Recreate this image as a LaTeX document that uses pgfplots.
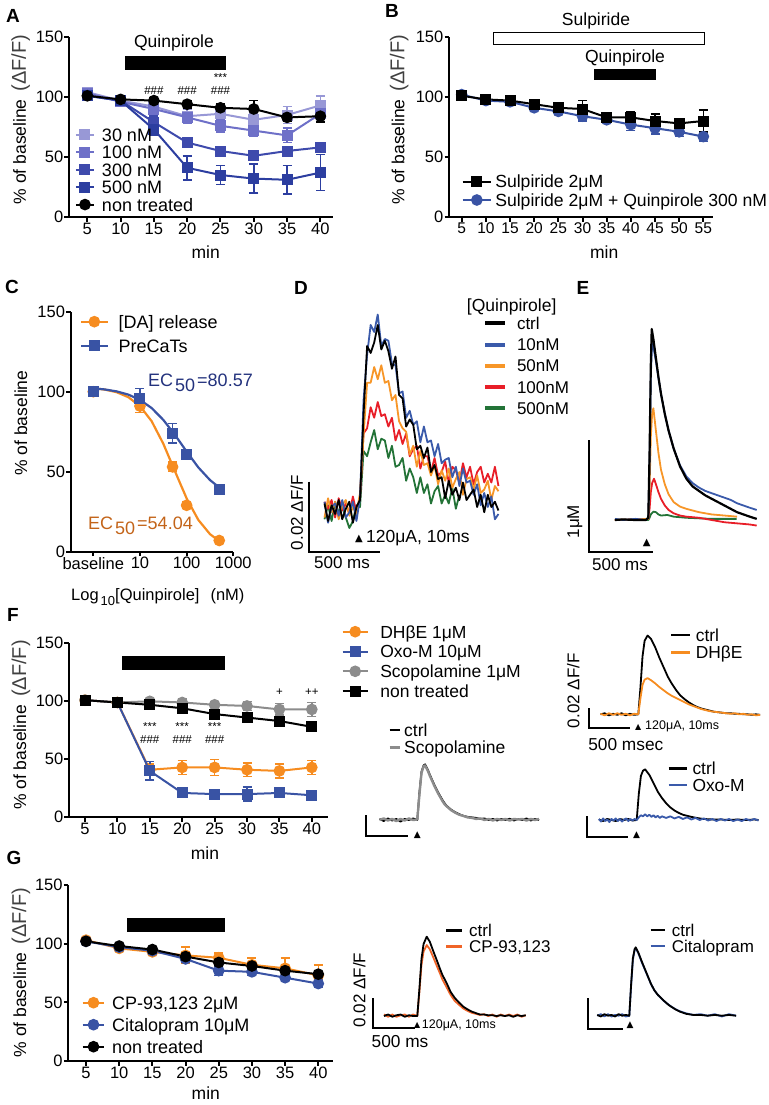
\documentclass[border=0pt]{standalone}
\usepackage{fontspec}
\setmainfont{Liberation Sans}
\newfontfamily\dv{DejaVu Sans}
\usepackage{pgfplots}
\pgfplotsset{compat=1.18}

\definecolor{cAa}{RGB}{152,152,214}
\definecolor{cAb}{RGB}{110,112,200}
\definecolor{cAc}{RGB}{62,74,172}
\definecolor{cAd}{RGB}{44,62,160}
\definecolor{cBl}{RGB}{57,83,164}
\definecolor{cOr}{RGB}{246,140,32}
\definecolor{cGr}{RGB}{140,140,140}
\definecolor{dBl}{RGB}{58,90,170}
\definecolor{dOr}{RGB}{247,150,40}
\definecolor{dRe}{RGB}{232,30,40}
\definecolor{dGn}{RGB}{35,115,55}
\definecolor{cCP}{RGB}{240,100,40}
\definecolor{ecB}{RGB}{35,50,125}
\definecolor{ecO}{RGB}{195,100,25}

\newcommand{\fs}[1]{\fontsize{#1}{#1}\selectfont}
\newcommand{\ylab}{\% of baseline\hspace{8pt}{\fs{20}\color{black!75}(ΔF/F)}}

\tikzset{ann/.style={font=\fs{11.5}, inner sep=0pt},
  ann2/.style={font=\fs{11.5}, inner sep=0pt, align=center}}

\pgfplotsset{
  gp/.style={scale only axis, anchor=south west, clip=false,
    axis x line*=bottom, axis y line*=left, xtick pos=bottom, ytick pos=left,
    axis line style={line width=2pt,-},
    every tick/.style={line width=2pt, black},
    tick align=outside, major tick length=4.5pt,
    ymin=0, ymax=150, ytick={0,50,100,150},
    /pgf/number format/assume math mode=true,
    tick label style={font=\fs{16.5}},
    yticklabel style={inner sep=1pt},
    xticklabel style={inner sep=1pt},
    label style={font=\fs{17.5}},
    legend cell align=left},
  tr/.style={scale only axis, anchor=south west, hide axis, clip=false, legend cell align=left},
  lg/.style n args={7}{legend style={draw=none, fill=none, inner sep=0pt, outer sep=0pt,
      at={(axis description cs:#1,#2)}, anchor=north west, row sep=0pt, column sep=#6,
      font=\fs{#3}, nodes={inner sep=0pt, outer sep=0pt, text height=#4, text depth=#5}},
    legend image code/.code={\draw[mark repeat=2,mark phase=2,##1] plot coordinates {(0pt,0pt) ({#7/2},0pt) (#7,0pt)};}},
  eb/.style={error bars/y dir=both, error bars/y explicit,
    error bars/error bar style={line width=1.5pt, solid},
    error bars/error mark options={rotate=90, line width=1.5pt, mark size=4.5pt}},
  sq/.style={mark=square*, mark size=4.5pt, line width=2pt, mark options={solid}},
  ci/.style={mark=*, mark size=4.8pt, line width=2pt, mark options={solid}},
  trl/.style={line width=1.8pt, line join=round, no markers},
}

\begin{document}
\begin{tikzpicture}
\useasboundingbox (0,0) rectangle (768pt,-1105pt);

% panel letters
\begin{scope}[every node/.style={font=\bfseries\fs{19}, inner sep=0pt}]
\node at (13pt,-16pt) {A};
\node at (392pt,-11pt) {B};
\node at (12pt,-287pt) {C};
\node at (301pt,-288pt) {D};
\node at (583pt,-288pt) {E};
\node at (13pt,-615pt) {F};
\node at (14pt,-858pt) {G};
\end{scope}

% ================= A =================
\begin{axis}[gp, at={(69pt,-217pt)}, width=264pt, height=180pt,
  xmin=2.25, xmax=41.9, xtick={5,10,...,40},
  xlabel={min}, xlabel style={at={(axis description cs:0.518,-0.193)}, anchor=center},
  ylabel={\ylab}, ylabel style={at={(axis description cs:-0.1826,0.542)}, anchor=center},
  lg={0.0227}{0.504}{18}{15.15pt}{2.25pt}{7pt}{18pt}]
\fill (axis cs:10.66,122.5) rectangle (axis cs:25.79,134.2);
\node[font=\fs{17.5}] at (axis cs:18.02,145) {Quinpirole};
\node[ann] at (axis cs:15,105.4) {\#\#\#};
\node[ann] at (axis cs:20,105.4) {\#\#\#};
\node[ann2] at (axis cs:25,110.8) {***\\[1.5pt]\#\#\#};
\addplot[color=cAa, sq, eb] coordinates {(5,104)+-(0,3) (10,97)+-(0,2) (15,92)+-(0,4) (20,84)+-(0,6) (25,86)+-(0,5) (30,81)+-(0,5) (35,85)+-(0,7) (40,93)+-(0,8)};
\addlegendentry{30 nM}
\addplot[color=cAb, sq, eb] coordinates {(5,103)+-(0,2) (10,96)+-(0,2) (15,90)+-(0,5) (20,83)+-(0,5) (25,76)+-(0,5) (30,72)+-(0,5) (35,68)+-(0,6) (40,86)+-(0,3)};
\addlegendentry{100 nM}
\addplot[color=cAc, sq, eb] coordinates {(5,101)+-(0,2) (10,97)+-(0,2) (15,79)+-(0,5) (20,62)+-(0,3) (25,55)+-(0,2) (30,51)+-(0,3) (35,55)+-(0,3) (40,58)+-(0,4)};
\addlegendentry{300 nM}
\addplot[color=cAd, sq, eb] coordinates {(5,101)+-(0,2) (10,97)+-(0,2) (15,73)+-(0,5) (20,41)+-(0,10) (25,35)+-(0,8) (30,32)+-(0,12) (35,31)+-(0,12) (40,37)+-(0,15)};
\addlegendentry{500 nM}
\addplot[color=black, ci, eb] coordinates {(5,101)+-(0,2) (10,98)+-(0,2) (15,97)+-(0,2) (20,94)+-(0,3) (25,91)+-(0,3) (30,90)+-(0,7) (35,83)+-(0,3) (40,84)+-(0,5)};
\addlegendentry{non treated}
\end{axis}

% ================= B =================
\begin{axis}[gp, at={(449pt,-217pt)}, width=264pt, height=180pt,
  xmin=2.37, xmax=57, xtick={5,10,...,55}, xticklabel style={font=\fs{15.5}},
  xlabel={min}, xlabel style={at={(axis description cs:0.588,-0.193)}, anchor=center},
  ylabel={\ylab}, ylabel style={at={(axis description cs:-0.1886,0.542)}, anchor=center},
  lg={0.0481}{0.247}{17.6}{15.45pt}{2.85pt}{3.3pt}{28.3pt}, reverse legend]
\draw[line width=1.5pt, fill=white] (axis cs:11.54,143.9) rectangle (axis cs:55.19,153.9);
\fill (axis cs:32.37,114.2) rectangle (axis cs:45.2,123.1);
\node[font=\fs{17.5}] at (axis cs:32.79,163.3) {Sulpiride};
\node[font=\fs{17.5}] at (axis cs:38.79,132.5) {Quinpirole};
\addplot[color=cBl, ci, eb] coordinates {(5,102)+-(0,2) (10,97)+-(0,2) (15,96)+-(0,2) (20,91)+-(0,2) (25,88)+-(0,2) (30,84)+-(0,4) (35,81)+-(0,2) (40,77)+-(0,5) (45,74)+-(0,5) (50,71)+-(0,4) (55,67)+-(0,4)};
\addlegendentry{Sulpiride 2μM + Quinpirole 300 nM}
\addplot[color=black, sq, eb] coordinates {(5,101)+-(0,2) (10,98)+-(0,2) (15,97)+-(0,2) (20,94)+-(0,2) (25,91)+-(0,3) (30,90)+-(0,7) (35,83)+-(0,2) (40,83)+-(0,5) (45,80)+-(0,6) (50,78)+-(0,4) (55,80)+-(0,9)};
\addlegendentry{Sulpiride 2μM}
\end{axis}

% ================= C =================
\begin{axis}[gp, at={(70.7pt,-551.7pt)}, width=162.6pt, height=240pt,
  xmode=log, xmin=0.328, xmax=1000, xtick={1,10,100,1000}, xticklabels={baseline,10,100,1000},
  xminorticks=false,
  ylabel={\% of baseline}, ylabel style={at={(axis description cs:-0.307,0.536)}, anchor=center},
  lg={0.0572}{1.009}{18}{18.6pt}{5.7pt}{10pt}{26.7pt}]
\addlegendimage{color=cOr, ci}
\addlegendentry{[DA] release}
\addlegendimage{color=cBl, sq}
\addlegendentry{PreCaTs}
\addplot[color=cOr, line width=2.2pt, no markers, forget plot] coordinates {(1,102.2) (1.778,101.3) (3.162,99.7) (5.623,96.6) (10,91.0) (17.78,81.6) (31.62,67.5) (56.23,50.3) (100,33.3) (177.8,19.9) (316.2,11.0) (501.2,6.6)};
\addplot[color=cBl, line width=2.2pt, no markers, forget plot] coordinates {(1,102.1) (1.778,101.4) (3.162,100.2) (5.623,98.2) (10,94.9) (17.78,89.8) (31.62,82.4) (56.23,73.0) (100,62.6) (177.8,52.7) (316.2,44.8) (501.2,40.1)};
\addplot[color=cOr, ci, only marks, eb, forget plot] coordinates {(1,100)+-(0,0) (10,91)+-(0,4) (50,53)+-(0,3) (100,29)+-(0,2) (500,7)+-(0,1)};
\addplot[color=cBl, sq, only marks, eb, forget plot] coordinates {(1,100)+-(0,0) (10,96)+-(0,6) (50,74)+-(0,6) (100,61)+-(0,2) (500,39)+-(0,2)};
\end{axis}
\node[font=\fs{18}, text=ecB, anchor=base west, inner sep=0pt] at (148pt,-386.4pt) {EC\hspace{2pt}\raisebox{-5pt}{50}\hspace{2pt}=80.57};
\node[font=\fs{18}, text=ecO, anchor=base west, inner sep=0pt] at (88pt,-529.7pt) {EC\hspace{2pt}\raisebox{-5pt}{50}\hspace{2pt}=54.04};
\node[font=\fs{16.5}, anchor=base west, inner sep=0pt] at (71pt,-600pt) {Log\hspace{2pt}\raisebox{-5pt}{\fs{13}10}[Quinpirole]\hspace{11pt}(nM)};

% ================= D =================
\begin{axis}[tr, at={(323.08pt,-542pt)}, width=176.79pt, height=227.5pt,
  xmin=-260, xmax=985, ymin=-1, ymax=5.5,
  lg={0.9046}{1.0079}{17}{16.7pt}{4.5pt}{10pt}{20pt}, legend image post style={line width=4pt}, reverse legend]
\addplot[trl, color=dGn] coordinates {(-250,-0.35)(-225,0.05)(-200,-0.4)(-175,0.15)(-150,-0.15)(-125,0)(-100,-0.3)(-75,-0.6)(-50,-0.4)(-25,0.05)(0,0)(25,1.6)(50,1.45)(75,1.85)(100,2.2)(125,1.65)(150,1.95)(175,1.9)(200,1.4)(225,1.75)(250,1.15)(275,1.2)(300,1.4)(325,0.75)(350,1.1)(375,0.85)(400,0.4)(425,0.85)(450,0.4)(475,0.65)(500,0.1)(525,0.45)(550,0.6)(575,0.1)(600,0.35)(625,0.1)(650,0.55)(675,-0.05)(700,0.35)};
\addlegendentry{500nM}
\addplot[trl, color=dRe] coordinates {(-250,0.15)(-225,-0.05)(-200,0.2)(-175,-0.3)(-150,0.25)(-125,-0.1)(-100,0.1)(-75,-0.2)(-50,0.3)(-25,-0.15)(0,0.25)(25,2.1)(50,2.25)(75,2.85)(100,2.55)(125,3.0)(150,2.6)(175,2.65)(200,2.3)(225,2.55)(250,1.9)(275,2.2)(300,1.8)(325,2.1)(350,1.45)(375,1.65)(400,1.75)(425,1.1)(450,1.45)(475,1.45)(500,1.0)(525,1.4)(550,0.9)(575,1.0)(600,1.3)(625,0.7)(650,1.15)(675,1.05)(700,0.7)(725,1.25)(750,0.85)(775,1.15)(800,0.65)(825,1.0)(850,1.15)(875,0.7)(900,0.95)(925,0.7)(950,1.15)(975,0.6)};
\addlegendentry{100nM}
\addplot[trl, color=dOr] coordinates {(-250,-0.3)(-225,0.25)(-200,-0.15)(-175,0.15)(-150,-0.35)(-125,0.05)(-100,0.2)(-75,-0.25)(-50,0)(-25,-0.2)(0,0.4)(25,2.05)(50,3.55)(75,3.55)(100,4.0)(125,3.65)(150,4.05)(175,3.55)(200,3.6)(225,3.05)(250,3.2)(275,2.45)(300,2.25)(325,2.15)(350,1.5)(375,1.75)(400,1.15)(425,1.6)(450,1.2)(475,1.25)(500,0.9)(525,1.2)(550,0.65)(575,1.05)(600,0.75)(625,1.1)(650,0.55)(675,0.8)(700,1.0)(725,0.35)(750,0.8)(775,0.85)(800,0.5)(825,0.9)(850,0.4)(875,0.5)(900,0.75)(925,0.2)(950,0.6)(975,0.45)};
\addlegendentry{50nM}
\addplot[trl, color=dBl] coordinates {(-250,0.15)(-225,-0.45)(-200,0)(-175,0.1)(-150,-0.25)(-125,0.2)(-100,-0.3)(-75,-0.15)(-50,0.15)(-25,-0.4)(0,0.25)(25,3.05)(50,4.35)(75,5.2)(100,5.0)(125,5.5)(150,4.6)(175,4.8)(200,4.75)(225,4.1)(250,4.05)(275,3.25)(300,3.3)(325,2.55)(350,2.75)(375,2.35)(400,2.45)(425,1.85)(450,2.3)(475,1.85)(500,1.9)(525,1.45)(550,1.8)(575,1.25)(600,1.35)(625,1.4)(650,0.85)(675,1.15)(700,0.6)(725,1.1)(750,0.7)(775,0.75)(800,0.35)(825,0.65)(850,0.05)(875,0.4)(900,0)(925,0.3)(950,-0.35)(975,-0.2)};
\addlegendentry{10nM}
\addplot[trl, color=black] coordinates {(-250,0.1)(-225,-0.4)(-200,0.05)(-175,-0.2)(-150,0.2)(-125,-0.35)(-100,-0.05)(-75,0.15)(-50,-0.45)(-25,0)(0,0.2)(25,2.65)(50,4.6)(75,4.4)(100,4.7)(125,5.2)(150,4.5)(175,4.75)(200,4.45)(225,3.95)(250,4.3)(275,3.2)(300,3.1)(325,2.3)(350,2.5)(375,2.35)(400,1.65)(425,1.75)(450,1.4)(475,1.7)(500,1.0)(525,1.2)(550,0.8)(575,0.85)(600,0.25)(625,0.75)(650,0.35)(675,0.55)(700,0.2)(725,0.7)(750,0.2)(775,0.35)(800,0.5)(825,0)(850,0.35)(875,-0.15)(900,0.35)(925,0)(950,0.15)(975,-0.1)};
\addlegendentry{ctrl}
\end{axis}
\node[font=\fs{17.5}] at (511.7pt,-306.7pt) {[Quinpirole]};
\draw[line width=2pt] (309pt,-481.7pt) -- (309pt,-551.7pt) -- (380pt,-551.7pt);
\node[font=\fs{17}, rotate=90] at (296.7pt,-512.7pt) {0.02 ΔF/F};
\node[font=\dv\fs{10}, inner sep=0pt] at (359pt,-539pt) {▲};
\node[font=\fs{17.5}, anchor=west, inner sep=0pt] at (366pt,-538pt) {120μA, 10ms};
\node[font=\fs{17}] at (342pt,-563pt) {500 ms};

% ================= E =================
\begin{axis}[tr, at={(614.95pt,-542.34pt)}, width=141.76pt, height=223.4pt,
  xmin=-263, xmax=855, ymin=-0.2, ymax=1.8]
\addplot[trl, color=dGn] coordinates {(-263,0)(-100,0.005)(0,0)(10,0.02)(20,0.05)(40,0.075)(60,0.07)(80,0.05)(100,0.04)(150,0.045)(200,0.03)(300,0.02)(500,0.01)(697,0.01)};
\addplot[trl, color=dRe] coordinates {(-263,0)(-100,0.005)(0,0.01)(10,0.1)(20,0.25)(30,0.33)(45,0.37)(60,0.32)(80,0.25)(100,0.19)(130,0.13)(160,0.09)(200,0.06)(250,0.04)(300,0.03)(400,0.02)(500,0)(600,-0.02)(700,-0.03)(800,-0.04)(855,-0.05)};
\addplot[trl, color=dOr] coordinates {(-263,0)(-100,0.005)(0,0.01)(10,0.3)(20,0.75)(30,0.95)(40,1.0)(60,0.8)(80,0.6)(100,0.45)(130,0.32)(160,0.23)(200,0.16)(250,0.12)(300,0.10)(400,0.07)(500,0.05)(600,0.04)(700,0.03)};
\addplot[trl, color=dBl] coordinates {(-263,0.01)(-200,0)(-100,0.01)(-20,0)(0,0.02)(10,0.5)(20,1.3)(30,1.58)(40,1.55)(60,1.42)(80,1.27)(100,1.13)(130,0.95)(160,0.80)(200,0.64)(250,0.49)(300,0.39)(350,0.33)(400,0.29)(450,0.26)(500,0.24)(550,0.22)(600,0.20)(650,0.18)(700,0.15)(750,0.13)(800,0.11)(855,0.09)};
\addplot[trl, color=black, line width=2.2pt] coordinates {(-263,0)(-200,0.005)(-100,0)(-20,0)(0,0.02)(10,0.6)(20,1.4)(27,1.71)(40,1.62)(60,1.45)(80,1.28)(100,1.13)(130,0.95)(160,0.80)(200,0.64)(250,0.48)(300,0.37)(350,0.30)(400,0.26)(450,0.22)(500,0.19)(550,0.16)(600,0.13)(650,0.10)(700,0.07)(750,0.05)(800,0.03)(855,0.01)};
\end{axis}
\draw[line width=2pt] (589.3pt,-440pt) -- (589.3pt,-551.7pt) -- (652.7pt,-551.7pt);
\node[font=\fs{17}, rotate=90] at (575pt,-521.7pt) {1μM};
\node[font=\fs{17}] at (620pt,-565pt) {500 ms};
\node[font=\dv\fs{10}, inner sep=0pt] at (646.7pt,-543pt) {▲};

% ================= F =================
\begin{axis}[gp, at={(69pt,-817.3pt)}, width=259pt, height=174pt,
  xmin=2.53, xmax=42.5, xtick={5,10,...,40},
  xlabel={min}, xlabel style={at={(axis description cs:0.525,-0.205)}, anchor=center},
  ylabel={\ylab}, ylabel style={at={(axis description cs:-0.186,0.530)}, anchor=center},
  lg={1.0529}{1.1236}{17.5}{16.2pt}{3.6pt}{11.6pt}{25pt}]
\fill (axis cs:10.67,127.0) rectangle (axis cs:26.62,139.1);
\node[ann2] at (axis cs:15,72.5) {***\\[1.5pt]\#\#\#};
\node[ann2] at (axis cs:20,72.5) {***\\[1.5pt]\#\#\#};
\node[ann2] at (axis cs:25,72.5) {***\\[1.5pt]\#\#\#};
\node[ann] at (axis cs:35,108.3) {+};
\node[ann] at (axis cs:40,108.3) {++};
\addplot[color=cOr, ci, eb] coordinates {(5,101)+-(0,2) (10,99)+-(0,2) (15,41)+-(0,5) (20,43)+-(0,6) (25,43)+-(0,7) (30,41)+-(0,6) (35,40)+-(0,6) (40,43)+-(0,6)};
\addlegendentry{DHβE 1μM}
\addplot[color=cBl, sq, eb] coordinates {(5,101)+-(0,2) (10,99)+-(0,2) (15,40)+-(0,8) (20,21)+-(0,2) (25,20)+-(0,3) (30,20)+-(0,6) (35,21)+-(0,4) (40,19)+-(0,3)};
\addlegendentry{Oxo-M 10μM}
\addplot[color=cGr, ci, eb] coordinates {(5,101)+-(0,2) (10,99)+-(0,2) (15,100)+-(0,2) (20,99)+-(0,3) (25,97)+-(0,2) (30,96)+-(0,4) (35,93)+-(0,5) (40,93)+-(0,6)};
\addlegendentry{Scopolamine 1μM}
\addplot[color=black, sq, eb] coordinates {(5,101)+-(0,2) (10,99)+-(0,2) (15,97)+-(0,3) (20,94)+-(0,3) (25,89)+-(0,3) (30,86)+-(0,3) (35,83)+-(0,4) (40,78)+-(0,3)};
\addlegendentry{non treated}
\end{axis}

% F inset: Scopolamine
\begin{axis}[tr, at={(378.32pt,-830.5pt)}, width=161.7pt, height=73.5pt,
  xmin=-464, xmax=1461, ymin=-1, ymax=6,
  lg={0.0617}{1.485}{17.5}{14.85pt}{2.45pt}{3.4pt}{10pt}, legend image post style={line width=2.5pt}]
\addplot[trl, color=black] coordinates {(-450,0.1)(-400,-0.1)(-350,0.15)(-300,-0.05)(-250,0.1)(-200,-0.15)(-150,0.1)(-100,0)(-50,0.15)(0,0)(25,2.6)(50,4.6)(75,5.2)(92,5.3)(125,4.8)(150,4.3)(175,3.85)(200,3.4)(225,3.0)(250,2.6)(275,2.25)(300,1.9)(325,1.6)(350,1.35)(400,1.0)(450,0.75)(500,0.55)(550,0.4)(600,0.3)(650,0.25)(700,0.2)(750,0.1)(800,0.15)(850,0)(900,0.1)(950,-0.05)(1000,0.1)(1050,0)(1100,0.12)(1150,-0.05)(1200,0.1)(1250,0)(1300,0.15)(1350,-0.05)(1400,0.1)(1450,0)};
\addlegendentry{ctrl}
\addplot[trl, color=cGr, line width=2.4pt] coordinates {(-450,0)(-400,0.15)(-350,-0.05)(-300,0.1)(-250,-0.1)(-200,0.1)(-150,-0.05)(-100,0.15)(-50,0)(0,0.05)(25,2.4)(50,4.5)(75,5.1)(92,5.2)(125,4.7)(150,4.2)(175,3.75)(200,3.3)(225,2.9)(250,2.5)(275,2.15)(300,1.8)(325,1.5)(350,1.3)(400,0.95)(450,0.7)(500,0.5)(550,0.38)(600,0.25)(650,0.2)(700,0.1)(750,0.15)(800,0)(850,0.1)(900,-0.05)(950,0.1)(1000,0)(1050,0.1)(1100,-0.05)(1150,0.1)(1200,0.05)(1250,0.1)(1300,-0.05)(1350,0.1)(1400,0)(1450,0.1)};
\addlegendentry{Scopolamine}
\end{axis}
\draw[line width=2pt] (366pt,-815pt) -- (366pt,-836pt) -- (408.3pt,-836pt);
\node[font=\dv\fs{9}, inner sep=0pt] at (417.3pt,-835pt) {▲};

% F inset: DHbE
\begin{axis}[tr, at={(600pt,-724.8pt)}, width=161.7pt, height=94.5pt,
  xmin=-456, xmax=1469, ymin=-1, ymax=8,
  lg={0.4329}{1.0439}{17.4}{15.05pt}{2.65pt}{5pt}{18.3pt}, legend image post style={line width=2.5pt}]
\addplot[trl, color=black] coordinates {(-450,0)(-400,0.1)(-350,-0.1)(-300,0.05)(-250,-0.05)(-200,0.1)(-150,-0.1)(-100,0.05)(-50,-0.05)(0,0)(25,2.5)(50,5.5)(75,7.0)(110,7.5)(150,7.2)(200,6.4)(250,5.4)(300,4.5)(350,3.6)(400,2.9)(450,2.3)(500,1.8)(550,1.45)(600,1.15)(650,0.9)(700,0.7)(750,0.55)(800,0.45)(850,0.35)(900,0.25)(950,0.2)(1000,0.15)(1050,0.1)(1100,0.1)(1150,0.05)(1200,0.05)(1250,0)(1300,0)(1350,-0.05)(1400,0)(1450,-0.05)};
\addlegendentry{ctrl}
\addplot[trl, color=cOr] coordinates {(-450,0.05)(-400,-0.1)(-350,0.1)(-300,-0.05)(-250,0.1)(-200,-0.05)(-150,0.05)(-100,-0.1)(-50,0.05)(0,0)(25,1.5)(50,2.8)(75,3.3)(110,3.45)(150,3.25)(200,2.95)(250,2.6)(300,2.3)(350,2.0)(400,1.75)(450,1.55)(500,1.35)(550,1.15)(600,0.95)(650,0.8)(700,0.65)(750,0.5)(800,0.4)(850,0.3)(900,0.25)(950,0.2)(1000,0.15)(1050,0.1)(1100,0.05)(1150,0.1)(1200,0)(1250,0.05)(1300,-0.05)(1350,0)(1400,-0.1)(1450,-0.05)};
\addlegendentry{DHβE}
\end{axis}
\draw[line width=2pt] (589.3pt,-708.3pt) -- (589.3pt,-728.3pt) -- (630pt,-728.3pt);
\node[font=\fs{17}, rotate=90] at (573.3pt,-690.7pt) {0.02 ΔF/F};
\node[font=\dv\fs{8}, inner sep=0pt] at (638.3pt,-727pt) {▲};
\node[font=\fs{12.5}, anchor=west, inner sep=0pt] at (645pt,-726.7pt) {120μA, 10ms};
\node[font=\fs{17.3}] at (625.8pt,-745pt) {500 msec};

% F inset: Oxo-M
\begin{axis}[tr, at={(596.72pt,-830.5pt)}, width=163.3pt, height=73.5pt,
  xmin=-476, xmax=1468, ymin=-1, ymax=6,
  lg={0.4322}{0.9599}{17.4}{14.6pt}{2.1pt}{4pt}{18.7pt}, legend image post style={line width=2.5pt}]
\addplot[trl, color=black] coordinates {(-450,0.05)(-400,-0.1)(-350,0.1)(-300,0)(-250,-0.1)(-200,0.1)(-150,0)(-100,0.1)(-50,-0.05)(0,0)(25,2.5)(50,4.2)(75,4.7)(100,4.83)(150,4.3)(200,3.5)(250,2.7)(300,2.1)(350,1.6)(400,1.2)(450,0.9)(500,0.68)(550,0.5)(600,0.4)(650,0.3)(700,0.22)(750,0.15)(800,0.1)(900,0.05)(1000,0.05)(1100,0)(1200,0.05)(1300,0)(1400,0.05)(1450,0)};
\addlegendentry{ctrl}
\addplot[trl, color=dBl] coordinates {(-450,0.1)(-425,-0.15)(-400,0.15)(-375,-0.1)(-350,0.05)(-325,-0.2)(-300,0.1)(-275,-0.05)(-250,0.15)(-225,-0.1)(-200,0.1)(-175,-0.15)(-150,0.05)(-125,0.15)(-100,-0.1)(-75,0.1)(-50,-0.05)(-25,0.1)(0,0)(25,0.25)(50,0.45)(75,0.35)(100,0.55)(125,0.35)(150,0.5)(175,0.3)(200,0.45)(225,0.25)(250,0.4)(275,0.2)(300,0.35)(350,0.2)(400,0.35)(450,0.15)(500,0.3)(550,0.1)(600,0.25)(650,0.05)(700,0.2)(750,0)(800,0.15)(850,-0.05)(900,0.1)(950,-0.1)(1000,0.1)(1050,-0.05)(1100,0.1)(1150,-0.1)(1200,0.05)(1250,-0.1)(1300,0.1)(1350,-0.05)(1400,0.1)(1450,-0.05)};
\addlegendentry{Oxo-M}
\end{axis}
\draw[line width=2pt] (586.7pt,-816pt) -- (586.7pt,-836.7pt) -- (628.3pt,-836.7pt);
\node[font=\dv\fs{9}, inner sep=0pt] at (636.7pt,-835pt) {▲};

% ================= G =================
\begin{axis}[gp, at={(68.3pt,-1061pt)}, width=265pt, height=176pt,
  xmin=2.33, xmax=42.26, xtick={5,10,...,40},
  xlabel={min}, xlabel style={at={(axis description cs:0.519,-0.182)}, anchor=center},
  ylabel={\ylab}, ylabel style={at={(axis description cs:-0.179,0.503)}, anchor=center},
  lg={0.0506}{0.3938}{18}{17.3pt}{4.7pt}{6.7pt}{21.6pt}]
\fill (axis cs:11.13,110.2) rectangle (axis cs:25.94,121.7);
\addplot[color=cOr, ci, eb] coordinates {(5,103)+-(0,1) (10,96)+-(0,2) (15,93)+-(0,2) (20,90)+-(0,7) (25,88)+-(0,4) (30,82)+-(0,6) (35,79)+-(0,9) (40,73)+-(0,9)};
\addlegendentry{CP-93,123 2μM}
\addplot[color=cBl, ci, eb] coordinates {(5,102)+-(0,1) (10,97)+-(0,1) (15,94)+-(0,2) (20,87)+-(0,3) (25,77)+-(0,4) (30,76)+-(0,3) (35,71)+-(0,2) (40,66)+-(0,3)};
\addlegendentry{Citalopram 10μM}
\addplot[color=black, ci, eb] coordinates {(5,102)+-(0,1) (10,98)+-(0,1) (15,95)+-(0,1) (20,89)+-(0,2) (25,84)+-(0,2) (30,81)+-(0,2) (35,77)+-(0,2) (40,74)+-(0,2)};
\addlegendentry{non treated}
\end{axis}

% G inset: CP
\begin{axis}[tr, at={(381.69pt,-1031pt)}, width=145.03pt, height=105pt,
  xmin=-427, xmax=1312, ymin=-1, ymax=6,
  lg={0.4365}{1.0314}{17}{14.1pt}{1.9pt}{6pt}{15.7pt}, legend image post style={line width=2.5pt}, reverse legend]
\addplot[trl, color=cCP] coordinates {(-400,0.1)(-350,-0.05)(-300,0.1)(-250,-0.05)(-200,0.05)(-150,0.1)(-100,-0.05)(-50,0.1)(0,0)(25,1.6)(50,3.4)(75,4.3)(113,4.73)(150,4.45)(200,3.8)(233,3.35)(275,2.8)(300,2.45)(353,1.9)(400,1.4)(450,1.0)(500,0.75)(552,0.5)(600,0.35)(650,0.22)(700,0.15)(751,0.07)(800,0.12)(850,0)(900,0.1)(950,-0.05)(1000,0.1)(1050,0)(1100,0.1)(1150,0)(1200,0.1)(1250,-0.05)(1300,0.05)};
\addlegendentry{CP-93,123}
\addplot[trl, color=black] coordinates {(-400,0)(-350,0.1)(-300,-0.05)(-250,0.05)(-200,0.1)(-150,-0.05)(-100,0.05)(-50,0)(0,0)(25,1.8)(50,3.8)(75,4.8)(113,5.29)(150,4.95)(200,4.2)(233,3.73)(275,3.1)(300,2.75)(353,2.18)(400,1.6)(450,1.2)(500,0.9)(552,0.62)(600,0.45)(650,0.3)(700,0.2)(751,0.1)(800,0.1)(850,0.05)(900,0.05)(950,0)(1000,0.05)(1050,0)(1100,0.05)(1150,-0.05)(1200,0.05)(1250,0)(1300,0.05)};
\addlegendentry{ctrl}
\end{axis}
\draw[line width=2pt] (373.3pt,-998.3pt) -- (373.3pt,-1028.3pt) -- (415pt,-1028.3pt);
\node[font=\fs{17}, rotate=90] at (359.3pt,-990pt) {0.02 ΔF/F};
\node[font=\dv\fs{8}, inner sep=0pt] at (417.3pt,-1025pt) {▲};
\node[font=\fs{12.5}, anchor=west, inner sep=0pt] at (421.7pt,-1025pt) {120μA, 10ms};
\node[font=\fs{17.3}] at (400pt,-1041.7pt) {500 ms};

% G inset: Citalopram
\begin{axis}[tr, at={(594.98pt,-1031.2pt)}, width=141.69pt, height=93pt,
  xmin=-482, xmax=1508, ymin=-1, ymax=5,
  lg={0.3834}{1.1742}{17}{14.1pt}{1.9pt}{6pt}{14pt}, legend image post style={line width=2.5pt}, reverse legend]
\addplot[trl, color=dBl] coordinates {(-450,0)(-400,0.1)(-350,-0.05)(-300,0.1)(-250,-0.05)(-200,0.05)(-150,0)(-100,0.1)(-50,-0.05)(0,0)(25,1.9)(50,3.6)(75,4.25)(90,4.35)(125,4.05)(175,3.45)(244,2.7)(300,2.1)(350,1.65)(400,1.35)(478,0.98)(550,0.72)(600,0.55)(650,0.42)(712,0.28)(800,0.15)(900,0.05)(1000,0.1)(1100,0)(1200,0.1)(1300,-0.05)(1400,0.1)(1500,0)};
\addlegendentry{Citalopram}
\addplot[trl, color=black] coordinates {(-450,0.05)(-400,-0.05)(-350,0.1)(-300,0)(-250,0.05)(-200,-0.05)(-150,0.1)(-100,0)(-50,0.05)(0,0)(25,2.0)(50,3.7)(75,4.3)(90,4.41)(125,4.1)(175,3.5)(244,2.73)(300,2.1)(350,1.65)(400,1.35)(478,1.0)(550,0.7)(600,0.55)(650,0.4)(712,0.26)(800,0.12)(900,0.05)(1000,0.05)(1100,0)(1200,0.05)(1300,0)(1400,0.05)(1500,0)};
\addlegendentry{ctrl}
\end{axis}
\draw[line width=2pt] (587.7pt,-998.3pt) -- (587.7pt,-1029.3pt) -- (623.3pt,-1029.3pt);
\node[font=\dv\fs{9}, inner sep=0pt] at (630pt,-1025pt) {▲};

\end{tikzpicture}
\end{document}
